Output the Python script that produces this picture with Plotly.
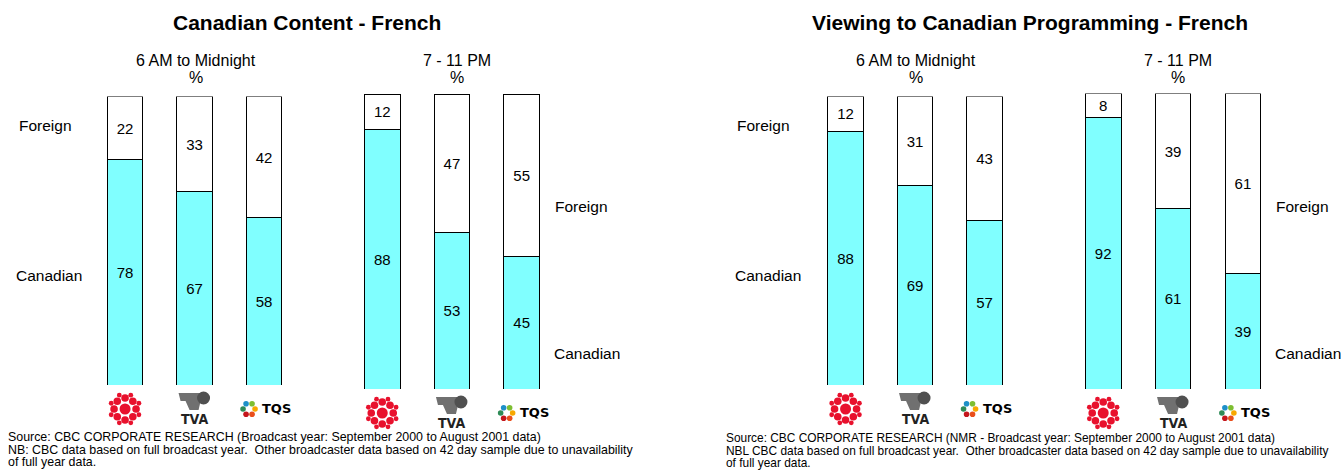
import math
import plotly.graph_objects as go

W, H = 1343, 474

# Broadcasters shown in each group of bars
broadcasters = ["CBC", "TVA", "TQS"]

# Canadian content (left panel), percent of schedule
content_day_canadian = [78, 67, 58]
content_day_foreign = [22, 33, 42]
content_prime_canadian = [88, 53, 45]
content_prime_foreign = [12, 47, 55]

# Viewing to Canadian programming (right panel), percent of viewing
viewing_day_canadian = [88, 69, 57]
viewing_day_foreign = [12, 31, 43]
viewing_prime_canadian = [92, 61, 39]
viewing_prime_foreign = [8, 39, 61]

CYAN = "#80FFFF"
FONT = "Liberation Sans, Arial, sans-serif"


def px(x):
    return x / W


def py(y):
    return 1 - y / H


# pixel layout of each group: (left, right, top, bottom)
groups = [
    (content_day_canadian, content_day_foreign, (90.3, 298.8, 96.5, 385)),
    (content_prime_canadian, content_prime_foreign, (347.4, 556.5, 94, 389)),
    (viewing_day_canadian, viewing_day_foreign, (810.8, 1019.3, 96.5, 385)),
    (viewing_prime_canadian, viewing_prime_foreign, (1068.3, 1277.8, 93.5, 389)),
]

fig = go.Figure()
layout_axes = {}
for i, (can, frn, (l, r, t, b)) in enumerate(groups, start=1):
    xa = "x" if i == 1 else f"x{i}"
    ya = "y" if i == 1 else f"y{i}"
    for vals, color in ((can, CYAN), (frn, "white")):
        fig.add_trace(go.Bar(
            x=list(range(len(broadcasters))), y=vals,
            xaxis=xa, yaxis=ya,
            width=0.51,
            marker=dict(color=color, line=dict(color="black", width=1)),
            text=[str(v) for v in vals],
            textposition="inside", insidetextanchor="middle",
            textangle=0, constraintext="none",
            textfont=dict(family=FONT, size=15, color="black"),
            showlegend=False, hoverinfo="skip",
        ))
    key = "" if i == 1 else str(i)
    layout_axes[f"xaxis{key}"] = dict(
        domain=[px(l), px(r)], range=[-0.5, 2.5], visible=False,
        anchor=ya, fixedrange=True)
    layout_axes[f"yaxis{key}"] = dict(
        domain=[py(b), py(t)], range=[0, 100], visible=False,
        anchor=xa, fixedrange=True)

fig.update_layout(
    barmode="stack", width=W, height=H,
    margin=dict(l=0, r=0, t=0, b=0),
    paper_bgcolor="white", plot_bgcolor="rgba(0,0,0,0)",
    **layout_axes,
)

ann = []


def text(x, y, s, size=15.5, bold=False, anchor="center", color="black",
         family=FONT):
    ann.append(dict(
        x=px(x), y=py(y), xref="paper", yref="paper", showarrow=False,
        text=f"<b>{s}</b>" if bold else s, xanchor=anchor, yanchor="middle",
        font=dict(family=family, size=size, color=color), align="left"))


# titles and period headings
text(307, 23, "Canadian Content - French", size=21, bold=True)
text(1030, 23, "Viewing to Canadian Programming - French", size=21, bold=True)
for cx, label in ((196, "6 AM to Midnight"), (457, "7 - 11 PM"),
                  (916, "6 AM to Midnight"), (1178, "7 - 11 PM")):
    text(cx, 60, label, size=16)
    text(cx, 77, "%", size=16)

# segment labels
text(17, 126, "Foreign", anchor="left")
text(14, 275, "Canadian", anchor="left")
text(553, 206, "Foreign", anchor="left")
text(552, 353, "Canadian", anchor="left")
text(735, 125, "Foreign", anchor="left")
text(733, 275, "Canadian", anchor="left")
text(1274, 206, "Foreign", anchor="left")
text(1273, 353, "Canadian", anchor="left")

# source notes
notes_left = [
    "Source: CBC CORPORATE RESEARCH (Broadcast year: September 2000 to August 2001 data)",
    "NB: CBC data based on full broadcast year.  Other broadcaster data based on 42 day sample due to unavailability",
    "of full year data.",
]
notes_right = [
    "Source: CBC CORPORATE RESEARCH (NMR - Broadcast year: September 2000 to August 2001 data)",
    "NBL CBC data based on full broadcast year.  Other broadcaster data based on 42 day sample due to unavailability",
    "of full year data.",
]
for k, s in enumerate(notes_left):
    text(6, 437 + 12.5 * k, s, size=12.4, anchor="left")
for k, s in enumerate(notes_right):
    text(724, 438 + 12.5 * k, s, size=11.9, anchor="left")

shapes = []


def circle(cx, cy, r, color):
    shapes.append(dict(type="circle", xref="paper", yref="paper",
                       x0=px(cx - r), x1=px(cx + r), y0=py(cy + r), y1=py(cy - r),
                       fillcolor=color, line=dict(width=0)))


RED = "#E8112D"
# broadcaster logos under each group
for (can, frn, (l, r, t, b)) in groups:
    step = (r - l) / 3
    centers = [l + step * (j + 0.5) for j in range(3)]
    ly = b + 24
    # CBC gem
    cx = centers[0]
    circle(cx, ly, 5.5, RED)
    for a in range(8):
        ang = a * math.pi / 4
        circle(cx + 11 * math.cos(ang), ly + 11 * math.sin(ang), 3.8, RED)
    for a in range(8):
        ang = a * math.pi / 4 + math.pi / 8
        circle(cx + 15 * math.cos(ang), ly + 15 * math.sin(ang), 2.4, RED)
    # TVA mark
    cx = centers[1]
    shapes.append(dict(type="path", xref="paper", yref="paper",
                       path=(f"M {px(cx-16)} {py(ly-16)} L {px(cx+8)} {py(ly-16)} "
                             f"L {px(cx+4)} {py(ly+1)} L {px(cx-5)} {py(ly+1)} "
                             f"L {px(cx-9)} {py(ly-8)} L {px(cx-14)} {py(ly-8)} Z"),
                       fillcolor="#707070", line=dict(width=0)))
    circle(cx + 9, ly - 11, 6.5, "#505050")
    text(cx, ly + 10, "TVA", size=14, bold=True, color="#222",
         family="DejaVu Sans Condensed, DejaVu Sans")
    # TQS mark
    cx = centers[2] - 15
    cols = ["#F7A800", "#E94E1B", "#C4161C", "#2E8B57", "#1E90C8", "#7DBE31"]
    for a, c in enumerate(cols):
        ang = a * math.pi / 3
        circle(cx + 6 * math.cos(ang), ly + 6 * math.sin(ang), 2.8, c)
    text(cx + 11, ly - 1, "TQS", size=13, bold=True, anchor="left",
         family="DejaVu Sans")

fig.update_layout(annotations=ann, shapes=shapes)
fig.write_html("out.html")
